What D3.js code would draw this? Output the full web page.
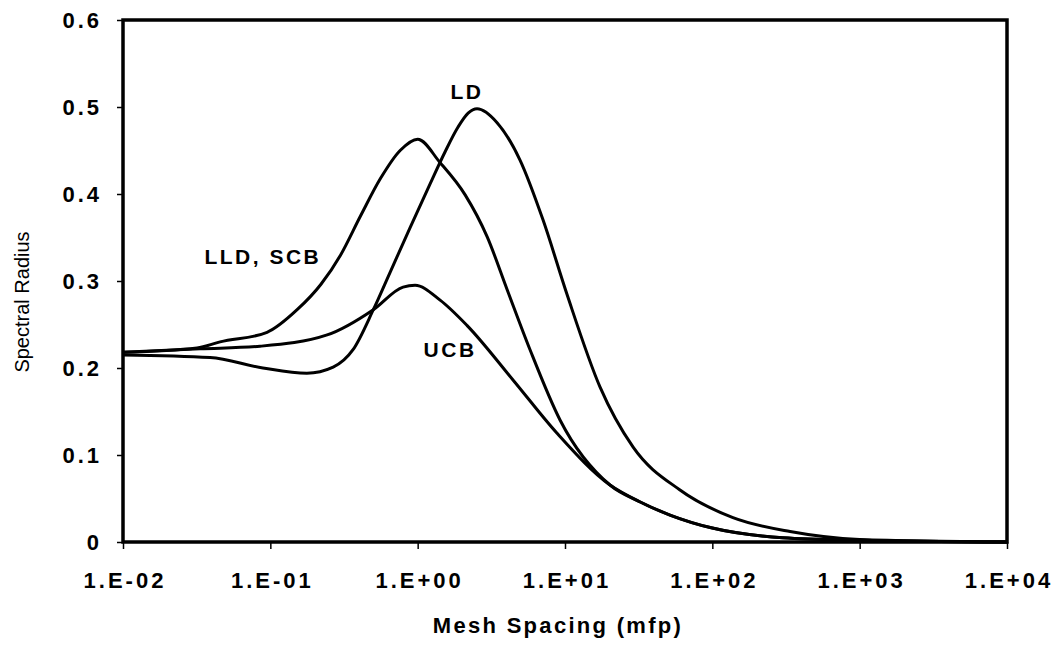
<!DOCTYPE html>
<html>
<head>
<meta charset="utf-8">
<script src="https://cdn.jsdelivr.net/npm/d3@7"></script>
<style>
  body { margin: 0; background: #fff; }
  text { font-family: "Liberation Sans", Arial, sans-serif; fill: #000; }
</style>
</head>
<body>
<div id="chart"></div>
<script>
// values (x in mfp, y = spectral radius)
let ldX  = [0.01, 0.039, 0.089, 0.177, 0.267, 0.364, 0.5, 0.65, 0.887, 1.21, 1.53, 1.88, 2.2, 2.53, 3.46, 4.95, 7.1, 10.3, 17.3, 29, 60, 138, 337, 1000, 10000]
let ldY  = [0.215, 0.212, 0.200, 0.194, 0.201, 0.221, 0.267, 0.310, 0.361, 0.411, 0.448, 0.477, 0.493, 0.498, 0.482, 0.439, 0.370, 0.285, 0.178, 0.109, 0.060, 0.028, 0.012, 0.003, 0]

let lldX = [0.01, 0.0318, 0.0456, 0.095, 0.152, 0.22, 0.3, 0.41, 0.56, 0.76, 1.0, 1.42, 2.1, 2.96, 4.05, 5.79, 9.27, 20.2, 32.4, 51.6, 100, 300, 1000, 10000]
let lldY = [0.218, 0.223, 0.230, 0.241, 0.267, 0.296, 0.330, 0.375, 0.418, 0.450, 0.463, 0.436, 0.399, 0.351, 0.290, 0.221, 0.140, 0.0655, 0.046, 0.031, 0.016, 0.005, 0.002, 0]

let ucbX = [0.01, 0.0333, 0.0851, 0.243, 0.5, 0.796, 0.96, 1.42, 2.16, 4.45, 8.83, 20.2, 32.4, 51.6, 100, 300, 1000, 10000]
let ucbY = [0.218, 0.222, 0.225, 0.238, 0.267, 0.293, 0.295, 0.278, 0.249, 0.186, 0.125, 0.0655, 0.046, 0.031, 0.016, 0.005, 0.002, 0]

let xTicks = [1e-2, 1e-1, 1e0, 1e1, 1e2, 1e3, 1e4]
let xTickLabels = ['1.E-02', '1.E-01', '1.E+00', '1.E+01', '1.E+02', '1.E+03', '1.E+04']
let yTicks = [0, 0.1, 0.2, 0.3, 0.4, 0.5, 0.6]

let curveLabels = [
  {text: 'LD', x: 2.16, y: 0.518},
  {text: 'LLD, SCB', x: 0.089, y: 0.328},
  {text: 'UCB', x: 1.66, y: 0.221}
]

let margin = {top: 20, right: 56, left: 123, bottom: 103}
let width = 1063 - margin.left - margin.right
let height = 645 - margin.top - margin.bottom

let svg = d3.select('div#chart')
  .append('svg')
    .attr('width', 1063)
    .attr('height', 645)

let g = svg.append('g')
  .attr('transform', `translate(${margin.left}, ${margin.top})`)

let x = d3.scaleLog().domain([1e-2, 1e4]).range([0, width])
let y = d3.scaleLinear().domain([0, 0.6]).range([height, 0])

// axes
let xAxis = g.append('g')
  .attr('transform', `translate(0, ${height})`)
  .call(d3.axisBottom(x).tickValues(xTicks).tickSize(7).tickFormat((d, i) => xTickLabels[i]))
let yAxis = g.append('g')
  .call(d3.axisLeft(y).tickValues(yTicks).tickSize(6).tickFormat(d => d === 0 ? '0' : d3.format('.1f')(d)))

xAxis.select('.domain').remove()
yAxis.select('.domain').remove()
g.selectAll('.tick line').attr('stroke', '#000').attr('stroke-width', 1.5)
g.selectAll('.tick text')
  .attr('font-size', 22)
  .attr('font-weight', 'bold')
  .style('letter-spacing', '3px')
  .style('font-family', '"Liberation Sans", Arial, sans-serif')
xAxis.selectAll('.tick text').attr('dy', null).attr('y', 46).attr('dx', 1.5)
yAxis.selectAll('.tick text').attr('x', -21).attr('dy', '0.36em')

// frame
g.append('rect')
  .attr('width', width)
  .attr('height', height)
  .attr('fill', 'none')
  .attr('stroke', '#000')
  .attr('stroke-width', 3.5)

// curves
let line = d3.line()
  .x(d => x(d[0]))
  .y(d => y(d[1]))
  .curve(d3.curveMonotoneX)

let series = [
  d3.zip(ldX, ldY),
  d3.zip(lldX, lldY),
  d3.zip(ucbX, ucbY)
]

g.selectAll('path.curve')
  .data(series)
  .enter().append('path')
  .attr('class', 'curve')
  .attr('d', line)
  .attr('fill', 'none')
  .attr('stroke', '#000')
  .attr('stroke-width', 3)
  .attr('stroke-linejoin', 'round')

g.selectAll('text.lab')
  .data(curveLabels)
  .enter().append('text')
  .attr('class', 'lab')
  .attr('x', d => x(d.x))
  .attr('y', d => y(d.y))
  .attr('dy', '0.36em')
  .attr('text-anchor', 'middle')
  .attr('font-size', 21)
  .attr('font-weight', 'bold')
  .style('letter-spacing', '2.5px')
  .text(d => d.text)

// axis titles
svg.append('text')
  .attr('x', 558)
  .attr('y', 633)
  .attr('text-anchor', 'middle')
  .attr('font-size', 22)
  .attr('font-weight', 'bold')
  .style('letter-spacing', '2.3px')
  .text('Mesh Spacing (mfp)')

svg.append('text')
  .attr('transform', 'translate(29, 302) rotate(-90)')
  .attr('text-anchor', 'middle')
  .attr('font-size', 20)
  .text('Spectral Radius')
</script>
</body>
</html>
